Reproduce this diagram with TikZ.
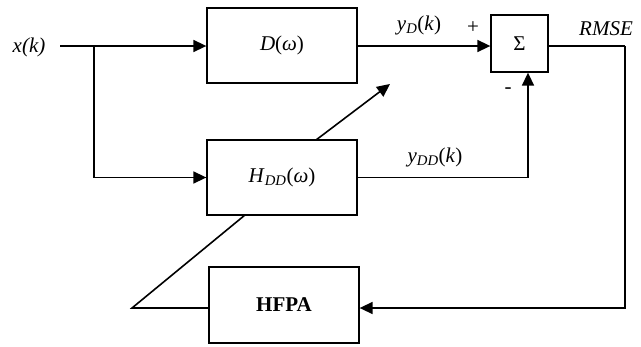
\documentclass[tikz,border=0pt]{standalone}
\usepackage{fontspec}
\setmainfont{Liberation Serif}
\usetikzlibrary{arrows.meta}
\begin{document}
\begin{tikzpicture}[x=1pt,y=-1pt,
  every node/.style={font=\fontsize{21}{24}\selectfont, inner sep=0pt},
  blk/.style={draw, line width=1.3pt, minimum width=150pt, minimum height=75pt},
  sumbox/.style={draw, line width=1.3pt, minimum width=57pt, minimum height=57pt},
  wire/.style={line width=1.6pt},
  flow/.style={wire, -{Triangle[length=13pt,width=12pt]}}]
\useasboundingbox (0,0) rectangle (641,346);
% blocks
\node[blk] (d) at (282,45.5) {\textit{D}(\textit{ω})};
\node[blk] (h) at (282,177.5) {\textit{H}\textsubscript{\textit{DD}}(\textit{ω})};
\node[blk, minimum width=150pt, minimum height=76pt] (hf) at (284,305) {\textbf{HFPA}};
\node[sumbox] (s) at (519.5,43.5) {Σ};
% labels
\node (x) at (29,47) {\textit{x(k)}};
\node (yd) at (419,25) {\textit{y}\textsubscript{\textit{D}}(\textit{k})};
\node (ydd) at (435,157) {\textit{y}\textsubscript{\textit{DD}}(\textit{k})};
\node (rmse) at (606,29) {\textit{RMSE}};
\node (plus) at (473,28) {+};
\node (minus) at (508,91) {-};
% routing points
\coordinate (xs) at (60,46);
\coordinate (br) at (94,46);
\coordinate (tap) at (625,46);
\coordinate (adjfrom) at (316,140);
\coordinate (adjto) at (390,84);
\coordinate (kink) at (132,308);
% forward paths
\draw[flow] (xs) -- (d.west |- xs);
\draw[flow] (br) |- (h.west);
\draw[flow] (d.east |- xs) -- (s.west |- xs);
\draw[flow] (h.east) -| (s.south -| 528,0);
% error feedback
\draw[wire] (s.east |- tap) -- (tap);
\draw[flow] (tap) |- (hf.east |- kink);
% adaptation
\draw[wire] (hf.west |- kink) -- (kink) -- (245,215);
\draw[flow] (adjfrom) -- (adjto);
\end{tikzpicture}
\end{document}
